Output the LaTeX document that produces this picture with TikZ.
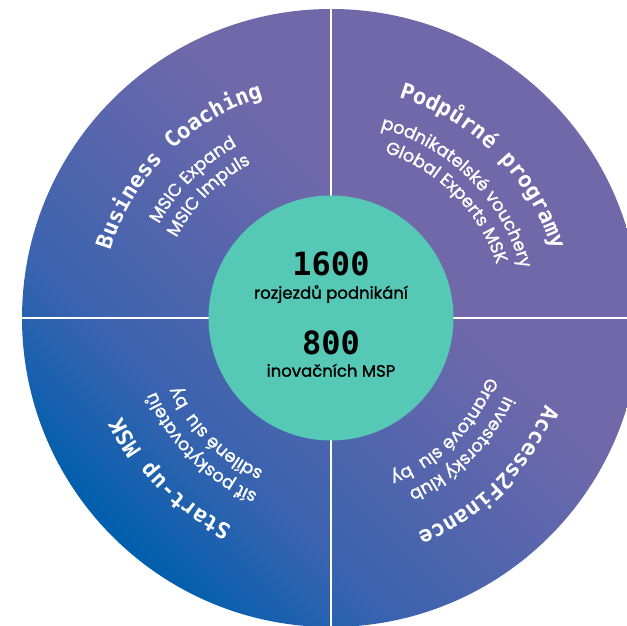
\documentclass[tikz,border=0pt]{standalone}
\usepackage{fontspec}
\setmainfont{Poppins}
\newfontfamily\poppm{Poppins}[FakeBold=1.4]
\newfontfamily\monob{DejaVu Sans Mono}
\usetikzlibrary{decorations.text,calc}
\definecolor{cA}{HTML}{005FAD}
\definecolor{cB}{HTML}{3A63AF}
\definecolor{cC}{HTML}{7168AA}
\definecolor{hubcol}{HTML}{55C9B5}
\pgfdeclarehorizontalshading{bgshade}{100bp}{color(0bp)=(cA); color(25bp)=(cA); color(36bp)=(cB); color(58bp)=(cC); color(100bp)=(cC)}
\newcommand{\ttlfont}{\monob\bfseries\fontsize{22}{22}\selectfont}
\newcommand{\subfont}{\poppm\fontsize{17.5}{17.5}\selectfont}
\tikzset{
  titlearc/.style={decorate,decoration={text along path,text align=center,text color=white,text={|\ttlfont|#1}}},
  subarc/.style={decorate,decoration={text along path,text align=center,text color=white,text={|\subfont|#1}}},
  divider/.style={white,line width=1.3pt},
  bignum/.style={font=\monob\bfseries\fontsize{32}{32}\selectfont,text=black,inner sep=0pt},
  numlabel/.style={font=\poppm\fontsize{16.5}{16.5}\selectfont,text=black,inner sep=0pt,anchor=base}
}
\begin{document}
\begin{tikzpicture}[x=1pt,y=1pt]
\useasboundingbox (0,0) rectangle (627,626);
\clip (0,0) rectangle (627,626);
\coordinate (C) at (331,308);
\coordinate (T) at ($(C)+(90:309)$);
\coordinate (B) at ($(C)+(-90:309)$);
\coordinate (L) at ($(C)+(180:309)$);
\coordinate (R) at ($(C)+(0:309)$);
\path[shading=bgshade,shading angle=45] (C) circle[radius=309];
\draw[divider] (T) -- (B);
\draw[divider] (L) -- (R);
\node[circle,fill=hubcol,minimum size=245pt,inner sep=0pt] (hub) at (C) {};
% centre texts
\node[bignum] (n1) at (331,361.7) {1600};
\node[numlabel] (l1) at (331,327.3) {rozjezdů podnikání};
\node[bignum] (n2) at (331,283.2) {800};
\node[numlabel] (l2) at (331,249.3) {inovačních MSP};
% top-left
\path[titlearc={Business Coaching}] ($(C)+(180:231)$) arc[start angle=180,end angle=90,radius=231];
\path[subarc={MSIC Expand}] ($(C)+(180:196)$) arc[start angle=180,end angle=90,radius=196];
\path[subarc={MSIC Impuls}] ($(C)+(180:174)$) arc[start angle=180,end angle=90,radius=174];
% top-right
\path[titlearc={Podpůrné programy}] ($(C)+(90:231)$) arc[start angle=90,end angle=0,radius=231];
\path[subarc={podnikatelské vouchery}] ($(C)+(90:196)$) arc[start angle=90,end angle=0,radius=196];
\path[subarc={Global Experts MSK}] ($(C)+(90:174)$) arc[start angle=90,end angle=0,radius=174];
% bottom-right
\path[titlearc={Access2Finance}] ($(C)+(0:231)$) arc[start angle=0,end angle=-90,radius=231];
\path[subarc={investorský klub}] ($(C)+(0:190)$) arc[start angle=0,end angle=-90,radius=190];
\path[subarc={Grantové slu{\ \ }by}] ($(C)+(0:167)$) arc[start angle=0,end angle=-90,radius=167];
% bottom-left
\path[titlearc={Start-up MSK}] ($(C)+(-90:231)$) arc[start angle=-90,end angle=-180,radius=231];
\path[subarc={síť poskytovatelů}] ($(C)+(-90:190)$) arc[start angle=-90,end angle=-180,radius=190];
\path[subarc={sdílené slu{\ \ }by}] ($(C)+(-90:167)$) arc[start angle=-90,end angle=-180,radius=167];
\end{tikzpicture}
\end{document}
